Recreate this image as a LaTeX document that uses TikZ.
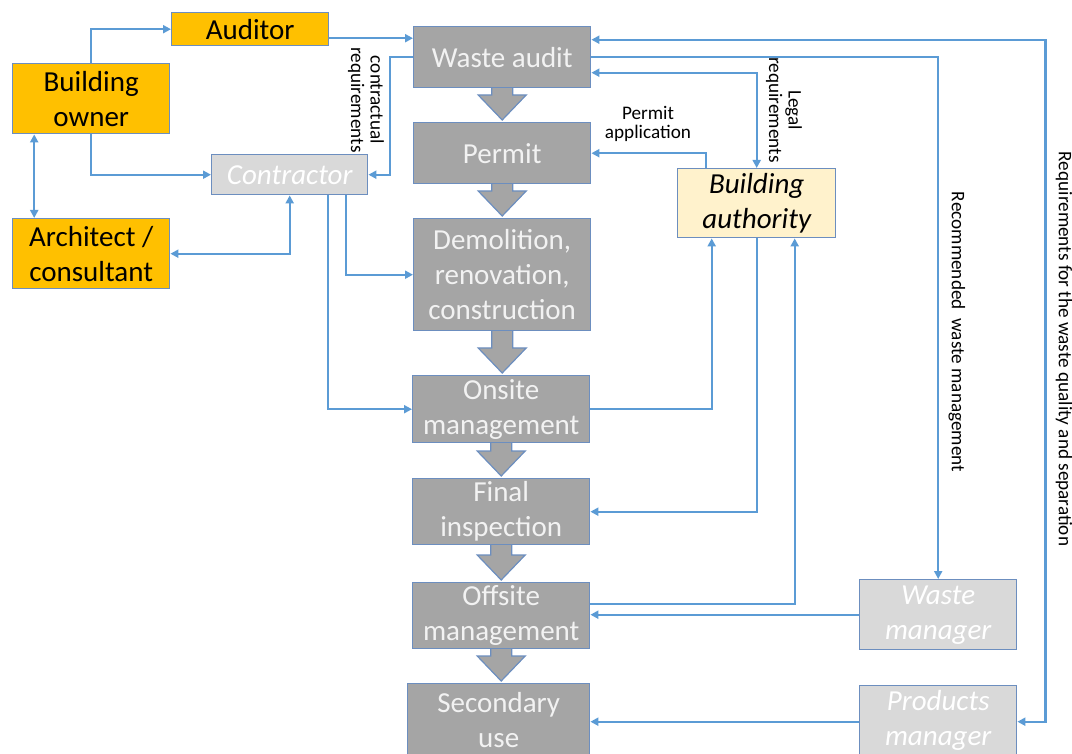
\documentclass[tikz,border=0pt]{standalone}
\usepackage{fontspec}
\setmainfont{Carlito}
\usetikzlibrary{arrows.meta,calc,backgrounds}
\definecolor{orangebox}{HTML}{FFC000}
\definecolor{graybox}{HTML}{A5A5A5}
\definecolor{lightbox}{HTML}{D9D9D9}
\definecolor{yellowbox}{HTML}{FFF2CC}
\definecolor{bordercol}{HTML}{6C8EBF}
\definecolor{linkcol}{HTML}{5B9BD5}
\definecolor{paletext}{HTML}{F2F2F2}
\tikzset{
  box/.style={draw=bordercol, line width=1.4pt, inner sep=0pt, anchor=north west,
    align=center, font=\fontsize{29}{35}\selectfont},
  actor/.style={box, fill=orangebox, text=black},
  stage/.style={box, fill=graybox, text=paletext},
  extern/.style={box, fill=lightbox, text=white, font=\fontsize{29}{35}\selectfont\itshape},
  authority/.style={box, fill=yellowbox, text=black, font=\fontsize{29}{35}\selectfont\itshape},
  link/.style={draw=linkcol, line width=2.2pt, -{Triangle[length=8pt,width=8pt]}},
  biglink/.style={draw=linkcol, line width=2.2pt, {Triangle[length=8pt,width=8pt]}-{Triangle[length=8pt,width=8pt]}},
  lbl/.style={font=\fontsize{19.2}{19.5}\selectfont, align=center, text=black, inner sep=0pt},
  blockarrow/.style={fill=graybox, draw=bordercol, line width=1.2pt}
}
\begin{document}
\begin{tikzpicture}[x=1pt,y=-1pt]
\useasboundingbox (0,0) rectangle (1072,754);
% actors
\node[actor, minimum width=157pt, minimum height=33pt] (aud) at (171,12) {Auditor};
\node[actor, minimum width=157pt, minimum height=70pt] (own) at (12,63) {Building\\owner};
\node[actor, minimum width=157pt, minimum height=70pt] (arch) at (12,218) {Architect /\\consultant};
\node[extern, minimum width=156pt, minimum height=40pt] (con) at (211,154) {Contractor};
% stages
\node[stage, minimum width=177pt, minimum height=61pt] (wa) at (413,26) {Waste audit};
\node[stage, minimum width=177pt, minimum height=61pt] (per) at (413,122) {Permit};
\node[stage, minimum width=177pt, minimum height=112pt] (dem) at (413,218) {Demolition,\\renovation,\\construction};
\node[stage, minimum width=177pt, minimum height=67pt] (ons) at (412,375) {Onsite\\management};
\node[stage, minimum width=177pt, minimum height=66pt] (fin) at (412,478) {Final\\inspection};
\node[stage, minimum width=177pt, minimum height=66pt] (off) at (412,582) {Offsite\\management};
\node[stage, minimum width=182pt, minimum height=72pt] (sec) at (407,683) {Secondary\\use};
% others
\node[authority, minimum width=158pt, minimum height=69pt] (ba) at (677,168) {Building\\authority};
\node[extern, minimum width=157pt, minimum height=70pt] (wm) at (859,579) {Waste\\manager};
\node[extern, minimum width=157pt, minimum height=70pt] (pm) at (859,685) {Products\\manager};
% block arrows between stages
\begin{scope}[on background layer]
\foreach \a/\b in {wa/per, per/dem, dem/ons, ons/fin, fin/off, off/sec}{
  \path let \p1=(\a.south), \p2=(\b.north) in
    [blockarrow] (\x1-10.5pt,\y1+3pt) -- (\x1-10.5pt,\y2+27pt) -- (\x1-24pt,\y2+27pt)
    -- (\x1,\y2+2pt) -- (\x1+24pt,\y2+27pt) -- (\x1+10.5pt,\y2+27pt)
    -- (\x1+10.5pt,\y1+3pt) -- cycle;
}
\end{scope}
% connectors
\draw[link] (own.north) |- (aud.west);
\draw[link] ([yshift=-9pt]aud.east) -- ([yshift=-9pt]aud.east -| wa.west);
\draw[link] (own.south) |- (con.west);
\draw[biglink] ([xshift=-57pt]own.south) -- ([xshift=-57pt]arch.north);
\draw[biglink] (arch.east) -| (con.south);
\draw[link] (wa.west) -- ++(-23,0) coordinate (cbend) |- (con.east);
\draw[link] ([xshift=38pt]con.south) |- (ons.west);
\draw[link] ([xshift=56pt]con.south) |- (dem.west);
\draw[biglink] ([yshift=17.5pt]wa.east) -- ++(454,0) coordinate (rq) |- ([yshift=-1pt]pm.east);
\draw[link] (wa.east) -| (wm.north);
\draw[biglink] ([yshift=-15.5pt]wa.east) -| (ba.north);
\draw[link] ([xshift=-51pt]ba.north) |- (per.east);
\draw[link] (ons.east) -| ([xshift=-45pt]ba.south);
\draw[link] (ba.south) |- (fin.east);
\draw[link] ([yshift=12pt]off.east) -| ([xshift=38pt]ba.south);
\draw[link] (wm.west) -- (wm.west -| off.east);
\draw[link] ([yshift=-1pt]pm.west) -- ([yshift=-1pt]pm.west -| sec.east);
% labels
\node[lbl, rotate=-90] (lcon) at (366,100) {contractual\\requirements};
\node[lbl, rotate=-90] (llegal) at (784,110) {Legal\\requirements};
\node[lbl] (lperm) at (648,124) {Permit\\application};
\node[lbl, rotate=-90] (lrec) at (957,332) {Recommended\ \ waste management};
\node[lbl, rotate=-90] (lreq) at (1064,349) {Requirements for the waste quality and separation};
\end{tikzpicture}
\end{document}
